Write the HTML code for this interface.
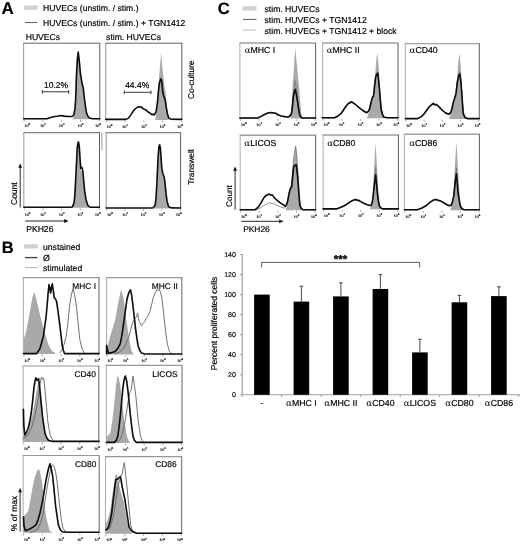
<!DOCTYPE html>
<html lang="en">
<head>
<meta charset="utf-8">
<title>Figure</title>
<style>
html,body{margin:0;padding:0;background:#fff;}
body{width:520px;height:544px;overflow:hidden;}
svg{display:block;}
svg text{font-family:"Liberation Sans",sans-serif;stroke:#000;stroke-width:0.18px;text-rendering:geometricPrecision;}
svg .al{font-family:"DejaVu Serif","Liberation Serif",serif;stroke-width:0;}
</style>
</head>
<body>
<svg width="520" height="544" viewBox="0 0 520 544">
<defs><filter id="soft" x="0" y="0" width="520" height="544" filterUnits="userSpaceOnUse"><feGaussianBlur stdDeviation="0.42"/></filter></defs>
<rect x="0" y="0" width="520" height="544" fill="#ffffff"/>
<g filter="url(#soft)">
<text x="1.4" y="14.0" font-size="17" text-anchor="start" font-weight="bold" fill="#000" >A</text>
<text x="1.8" y="253.2" font-size="16.5" text-anchor="start" font-weight="bold" fill="#000" >B</text>
<text x="217.8" y="14.1" font-size="16.5" text-anchor="start" font-weight="bold" fill="#000" >C</text>
<rect x="24.3" y="5.5" width="13.3" height="4.3" fill="#d0d0d0"/>
<text x="43.0" y="11.3" font-size="8.6" text-anchor="start" font-weight="normal" fill="#000" >HUVECs (unstim. / stim.)</text>
<line x1="25" y1="22.5" x2="37.2" y2="22.5" stroke="#333" stroke-width="0.8"/>
<text x="43.0" y="25.7" font-size="8.6" text-anchor="start" font-weight="normal" fill="#000" >HUVECs (unstim. / stim.) + TGN1412</text>
<text x="25.7" y="39.6" font-size="8.6" text-anchor="start" font-weight="normal" fill="#000" >HUVECs</text>
<text x="106.1" y="39.6" font-size="8.6" text-anchor="start" font-weight="normal" fill="#000" >stim. HUVECs</text>
<polygon points="72.5,119.2 72.5,119.0 74.0,115.5 75.6,100.4 76.6,74.2 77.4,60.1 78.3,52.1 79.2,60.1 80.4,74.2 82.0,84.3 83.0,88.8 84.1,98.4 85.2,107.0 86.2,112.9 87.7,117.0 89.5,119.0 89.5,119.2" fill="#a9a9a9"/>
<line x1="23.6" y1="43.2" x2="23.6" y2="119.2" stroke="#a2a2a2" stroke-width="1.1"/>
<line x1="23.1" y1="43.2" x2="100.3" y2="43.2" stroke="#646464" stroke-width="1.0"/>
<line x1="99.8" y1="43.2" x2="99.8" y2="119.2" stroke="#5c5c5c" stroke-width="1.0"/>
<polyline points="23.6,118.7 47.0,118.7 50.0,117.7 53.0,116.8 57.0,116.3 61.0,115.5 64.0,116.1 68.0,116.5 72.0,116.5 73.8,115.0 75.0,108.4 75.6,100.4 76.5,74.2 77.3,60.1 78.2,52.1 79.2,60.1 80.5,74.2 82.0,83.3 83.3,88.3 84.4,98.4 85.5,107.0 86.5,112.9 88.0,116.5 90.1,118.3 93.0,118.7 99.8,118.7" fill="none" stroke="#0a0a0a" stroke-width="1.6" stroke-linejoin="round" stroke-linecap="round"/>
<text x="24.6" y="126.9" font-size="3.6" fill="#222" stroke-width="0.1">10<tspan dy="-1.8" font-size="2.9">0</tspan></text>
<line x1="24.1" y1="119.8" x2="24.1" y2="121.6" stroke="#666" stroke-width="0.6"/>
<text x="40.2" y="126.9" font-size="3.6" fill="#222" stroke-width="0.1">10<tspan dy="-1.8" font-size="2.9">1</tspan></text>
<line x1="42.9" y1="119.8" x2="42.9" y2="121.6" stroke="#666" stroke-width="0.6"/>
<text x="59.1" y="126.9" font-size="3.6" fill="#222" stroke-width="0.1">10<tspan dy="-1.8" font-size="2.9">2</tspan></text>
<line x1="61.7" y1="119.8" x2="61.7" y2="121.6" stroke="#666" stroke-width="0.6"/>
<text x="77.8" y="126.9" font-size="3.6" fill="#222" stroke-width="0.1">10<tspan dy="-1.8" font-size="2.9">3</tspan></text>
<line x1="80.5" y1="119.8" x2="80.5" y2="121.6" stroke="#666" stroke-width="0.6"/>
<text x="95.2" y="126.9" font-size="3.6" fill="#222" stroke-width="0.1">10<tspan dy="-1.8" font-size="2.9">4</tspan></text>
<line x1="99.3" y1="119.8" x2="99.3" y2="121.6" stroke="#666" stroke-width="0.6"/>
<text x="56.0" y="87.7" font-size="8.5" text-anchor="middle" font-weight="normal" fill="#000" >10.2%</text>
<path d="M42.4 90 V93.6 M42.4 91.8 H68.7 M68.7 90 V93.6" stroke="#222" stroke-width="0.9" fill="none"/>
<polygon points="155.3,119.9 155.3,119.6 156.1,116.3 157.2,101.9 158.4,87.3 159.4,72.9 160.1,65.7 161.2,52.0 162.2,65.7 163.0,72.9 164.4,84.5 165.5,91.7 166.5,101.9 167.5,111.9 168.9,119.6 168.9,119.9" fill="#a9a9a9"/>
<line x1="105.7" y1="43.2" x2="105.7" y2="119.9" stroke="#a2a2a2" stroke-width="1.1"/>
<line x1="105.2" y1="43.2" x2="182.3" y2="43.2" stroke="#646464" stroke-width="1.0"/>
<line x1="181.8" y1="43.2" x2="181.8" y2="119.9" stroke="#5c5c5c" stroke-width="1.0"/>
<polyline points="105.7,119.4 126.0,119.4 128.5,118.1 131.0,114.6 134.0,110.0 137.0,107.5 139.2,106.7 141.4,107.1 143.6,109.1 145.5,109.7 147.2,111.2 149.0,112.7 150.8,113.5 152.2,114.8 153.3,114.2 154.3,114.9 156.1,111.9 157.5,101.9 158.4,91.7 159.4,83.0 160.8,78.7 161.8,81.6 162.7,91.7 163.7,96.0 165.1,99.6 166.1,106.2 167.3,113.5 168.7,117.8 170.8,119.2 181.8,119.4" fill="none" stroke="#0a0a0a" stroke-width="1.6" stroke-linejoin="round" stroke-linecap="round"/>
<text x="106.7" y="127.6" font-size="3.6" fill="#222" stroke-width="0.1">10<tspan dy="-1.8" font-size="2.9">0</tspan></text>
<line x1="106.2" y1="120.5" x2="106.2" y2="122.3" stroke="#666" stroke-width="0.6"/>
<text x="122.3" y="127.6" font-size="3.6" fill="#222" stroke-width="0.1">10<tspan dy="-1.8" font-size="2.9">1</tspan></text>
<line x1="125.0" y1="120.5" x2="125.0" y2="122.3" stroke="#666" stroke-width="0.6"/>
<text x="141.2" y="127.6" font-size="3.6" fill="#222" stroke-width="0.1">10<tspan dy="-1.8" font-size="2.9">2</tspan></text>
<line x1="143.8" y1="120.5" x2="143.8" y2="122.3" stroke="#666" stroke-width="0.6"/>
<text x="159.8" y="127.6" font-size="3.6" fill="#222" stroke-width="0.1">10<tspan dy="-1.8" font-size="2.9">3</tspan></text>
<line x1="162.5" y1="120.5" x2="162.5" y2="122.3" stroke="#666" stroke-width="0.6"/>
<text x="177.2" y="127.6" font-size="3.6" fill="#222" stroke-width="0.1">10<tspan dy="-1.8" font-size="2.9">4</tspan></text>
<line x1="181.3" y1="120.5" x2="181.3" y2="122.3" stroke="#666" stroke-width="0.6"/>
<text x="137.2" y="87.8" font-size="8.5" text-anchor="middle" font-weight="normal" fill="#000" >44.4%</text>
<path d="M124.2 90.5 V94.1 M124.2 92.3 H151 M151 90.5 V94.1" stroke="#222" stroke-width="0.9" fill="none"/>
<text transform="translate(194.0 99.0) rotate(-90)" font-size="8.4" text-anchor="start" fill="#000">Co-culture</text>
<polygon points="73.0,207.8 73.0,207.8 74.5,201.4 75.3,191.4 76.0,177.0 76.7,162.7 77.4,148.3 78.4,142.5 79.3,148.3 80.0,160.0 80.6,170.0 81.5,171.0 82.6,173.0 83.4,181.3 84.4,191.4 85.8,200.0 87.6,205.7 89.5,207.8 89.5,207.8" fill="#a9a9a9"/>
<line x1="23.8" y1="132.7" x2="23.8" y2="207.8" stroke="#a2a2a2" stroke-width="1.1"/>
<line x1="23.3" y1="132.7" x2="100.0" y2="132.7" stroke="#646464" stroke-width="1.0"/>
<line x1="99.5" y1="132.7" x2="99.5" y2="207.8" stroke="#5c5c5c" stroke-width="1.0"/>
<polyline points="23.8,207.3 70.0,207.3 72.2,207.0 73.3,205.0 74.3,201.4 75.1,191.4 75.8,177.0 76.5,162.7 77.2,148.3 77.8,143.8 78.4,141.9 79.0,144.3 79.4,148.3 80.1,159.8 80.8,168.4 81.8,167.3 82.5,169.5 83.0,172.7 83.7,181.3 84.7,191.4 86.1,200.0 88.0,205.7 90.1,207.1 99.5,207.3" fill="none" stroke="#0a0a0a" stroke-width="1.6" stroke-linejoin="round" stroke-linecap="round"/>
<text x="24.8" y="215.5" font-size="3.6" fill="#222" stroke-width="0.1">10<tspan dy="-1.8" font-size="2.9">0</tspan></text>
<line x1="24.3" y1="208.4" x2="24.3" y2="210.2" stroke="#666" stroke-width="0.6"/>
<text x="40.3" y="215.5" font-size="3.6" fill="#222" stroke-width="0.1">10<tspan dy="-1.8" font-size="2.9">1</tspan></text>
<line x1="43.0" y1="208.4" x2="43.0" y2="210.2" stroke="#666" stroke-width="0.6"/>
<text x="59.0" y="215.5" font-size="3.6" fill="#222" stroke-width="0.1">10<tspan dy="-1.8" font-size="2.9">2</tspan></text>
<line x1="61.7" y1="208.4" x2="61.7" y2="210.2" stroke="#666" stroke-width="0.6"/>
<text x="77.6" y="215.5" font-size="3.6" fill="#222" stroke-width="0.1">10<tspan dy="-1.8" font-size="2.9">3</tspan></text>
<line x1="80.3" y1="208.4" x2="80.3" y2="210.2" stroke="#666" stroke-width="0.6"/>
<text x="94.9" y="215.5" font-size="3.6" fill="#222" stroke-width="0.1">10<tspan dy="-1.8" font-size="2.9">4</tspan></text>
<line x1="99.0" y1="208.4" x2="99.0" y2="210.2" stroke="#666" stroke-width="0.6"/>
<line x1="101.9" y1="132.5" x2="101.9" y2="150" stroke="#a2a2a2" stroke-width="1.1"/>
<text transform="translate(17.0 205.0) rotate(-90)" font-size="8.5" text-anchor="start" fill="#000">Count</text>
<line x1="20.2" y1="207.6" x2="20.2" y2="166.4" stroke="#000" stroke-width="0.85"/>
<polygon points="20.2,163.4 18.3,167.8 22.1,167.8" fill="#111"/>
<line x1="25.2" y1="221.0" x2="65.6" y2="221.0" stroke="#000" stroke-width="0.85"/>
<polygon points="68.6,221.0 64.2,219.1 64.2,222.9" fill="#111"/>
<text x="26.2" y="232.2" font-size="8.6" text-anchor="start" font-weight="normal" fill="#000" >PKH26</text>
<polygon points="154.0,208.5 154.0,208.5 155.6,204.3 156.4,197.1 157.1,184.2 157.8,169.9 158.5,155.5 159.4,142.6 160.2,148.3 160.9,158.4 161.6,168.4 162.6,174.5 163.9,178.0 164.8,184.2 165.8,194.3 166.8,201.4 168.2,206.5 170.0,208.5 170.0,208.5" fill="#a9a9a9"/>
<line x1="106.2" y1="132.7" x2="106.2" y2="208.5" stroke="#a2a2a2" stroke-width="1.1"/>
<line x1="105.7" y1="132.7" x2="181.1" y2="132.7" stroke="#646464" stroke-width="1.0"/>
<line x1="180.6" y1="132.7" x2="180.6" y2="208.5" stroke="#5c5c5c" stroke-width="1.0"/>
<polyline points="106.2,208.0 151.0,208.0 153.2,207.7 154.4,206.3 155.3,204.3 156.1,197.1 156.8,184.2 157.5,169.9 158.2,155.5 158.9,146.9 159.7,144.8 160.4,148.3 161.1,158.4 161.8,168.4 162.8,173.5 164.2,177.0 165.1,184.2 166.1,194.3 167.1,201.4 168.5,206.5 171.1,207.9 180.6,208.0" fill="none" stroke="#0a0a0a" stroke-width="1.6" stroke-linejoin="round" stroke-linecap="round"/>
<text x="107.2" y="216.2" font-size="3.6" fill="#222" stroke-width="0.1">10<tspan dy="-1.8" font-size="2.9">0</tspan></text>
<line x1="106.7" y1="209.1" x2="106.7" y2="210.9" stroke="#666" stroke-width="0.6"/>
<text x="122.4" y="216.2" font-size="3.6" fill="#222" stroke-width="0.1">10<tspan dy="-1.8" font-size="2.9">1</tspan></text>
<line x1="125.0" y1="209.1" x2="125.0" y2="210.9" stroke="#666" stroke-width="0.6"/>
<text x="140.8" y="216.2" font-size="3.6" fill="#222" stroke-width="0.1">10<tspan dy="-1.8" font-size="2.9">2</tspan></text>
<line x1="143.4" y1="209.1" x2="143.4" y2="210.9" stroke="#666" stroke-width="0.6"/>
<text x="159.0" y="216.2" font-size="3.6" fill="#222" stroke-width="0.1">10<tspan dy="-1.8" font-size="2.9">3</tspan></text>
<line x1="161.8" y1="209.1" x2="161.8" y2="210.9" stroke="#666" stroke-width="0.6"/>
<text x="176.0" y="216.2" font-size="3.6" fill="#222" stroke-width="0.1">10<tspan dy="-1.8" font-size="2.9">4</tspan></text>
<line x1="180.1" y1="209.1" x2="180.1" y2="210.9" stroke="#666" stroke-width="0.6"/>
<text transform="translate(193.6 184.8) rotate(-90)" font-size="8.4" text-anchor="start" fill="#000">Transwell</text>
<rect x="24.2" y="244.3" width="13.6" height="4.2" fill="#d0d0d0"/>
<text x="43.0" y="249.5" font-size="8.65" text-anchor="start" font-weight="normal" fill="#000" >unstained</text>
<line x1="25" y1="257.6" x2="37.5" y2="257.6" stroke="#4a4a4a" stroke-width="1.4"/>
<text x="43.0" y="260.7" font-size="8.8" text-anchor="start" font-weight="normal" fill="#000" >Ø</text>
<line x1="25" y1="267.7" x2="37.5" y2="267.7" stroke="#a5a5a5" stroke-width="0.9"/>
<text x="43.0" y="271.2" font-size="8.6" text-anchor="start" font-weight="normal" fill="#000" >stimulated</text>
<polygon points="23.4,354.0 23.4,339.6 25.5,334.0 28.0,322.0 30.5,308.0 32.5,297.0 34.4,292.0 36.0,298.0 38.0,306.0 40.5,317.0 43.4,327.8 46.0,337.0 48.5,345.0 51.8,351.0 55.0,352.8 55.0,354.0" fill="#a9a9a9"/>
<line x1="23.4" y1="277.6" x2="23.4" y2="354.0" stroke="#b0b0b0" stroke-width="1.1"/>
<line x1="22.9" y1="277.6" x2="99.5" y2="277.6" stroke="#989898" stroke-width="1.2"/>
<line x1="99.0" y1="277.6" x2="99.0" y2="354.0" stroke="#858585" stroke-width="1.3"/>
<polyline points="60.3,352.4 63.0,348.0 66.2,336.3 68.0,322.0 69.6,305.8 71.3,295.0 73.0,289.0 74.7,295.0 76.4,305.8 78.0,322.0 79.8,339.6 81.8,348.0 84.0,352.4" fill="none" stroke="#6a6a6a" stroke-width="0.95" stroke-linejoin="round" stroke-linecap="round"/>
<polyline points="23.4,353.6 36.6,353.6 40.0,348.5 43.4,336.0 46.0,317.7 47.4,302.0 48.2,292.3 49.0,284.6 49.8,288.0 50.6,293.0 51.4,288.0 52.3,283.8 53.2,290.0 54.2,297.4 55.5,299.0 56.6,301.6 58.0,311.0 59.5,322.7 61.0,335.0 62.3,346.4 63.4,350.5 64.5,353.6 99.0,353.6" fill="none" stroke="#0a0a0a" stroke-width="1.6" stroke-linejoin="round" stroke-linecap="round"/>
<text x="24.4" y="361.7" font-size="3.6" fill="#222" stroke-width="0.1">10<tspan dy="-1.8" font-size="2.9">0</tspan></text>
<line x1="23.9" y1="354.6" x2="23.9" y2="356.4" stroke="#666" stroke-width="0.6"/>
<text x="39.9" y="361.7" font-size="3.6" fill="#222" stroke-width="0.1">10<tspan dy="-1.8" font-size="2.9">1</tspan></text>
<line x1="42.5" y1="354.6" x2="42.5" y2="356.4" stroke="#666" stroke-width="0.6"/>
<text x="58.6" y="361.7" font-size="3.6" fill="#222" stroke-width="0.1">10<tspan dy="-1.8" font-size="2.9">2</tspan></text>
<line x1="61.2" y1="354.6" x2="61.2" y2="356.4" stroke="#666" stroke-width="0.6"/>
<text x="77.1" y="361.7" font-size="3.6" fill="#222" stroke-width="0.1">10<tspan dy="-1.8" font-size="2.9">3</tspan></text>
<line x1="79.8" y1="354.6" x2="79.8" y2="356.4" stroke="#666" stroke-width="0.6"/>
<text x="94.4" y="361.7" font-size="3.6" fill="#222" stroke-width="0.1">10<tspan dy="-1.8" font-size="2.9">4</tspan></text>
<line x1="98.5" y1="354.6" x2="98.5" y2="356.4" stroke="#666" stroke-width="0.6"/>
<text x="96.0" y="289.4" font-size="8.4" text-anchor="end" font-weight="normal" fill="#000" >MHC I</text>
<polygon points="106.4,354.5 106.4,349.8 107.5,346.7 109.0,340.7 111.0,333.6 113.0,327.5 115.2,319.8 117.0,309.3 118.6,300.9 120.0,294.2 121.2,289.0 122.4,294.2 123.7,299.2 126.0,316.4 128.0,331.6 129.7,341.7 131.3,350.6 133.8,354.5 133.8,354.5" fill="#a9a9a9"/>
<line x1="106.6" y1="277.6" x2="106.6" y2="354.5" stroke="#b0b0b0" stroke-width="1.1"/>
<line x1="106.1" y1="277.6" x2="182.3" y2="277.6" stroke="#989898" stroke-width="1.2"/>
<line x1="181.8" y1="277.6" x2="181.8" y2="354.5" stroke="#858585" stroke-width="1.3"/>
<polyline points="115.0,354.0 120.0,351.8 123.7,348.7 126.0,343.7 128.8,336.9 131.0,328.5 133.0,321.5 135.0,318.4 136.4,317.2 137.6,313.0 138.4,317.4 139.3,321.5 140.4,323.5 141.5,325.8 143.0,323.5 144.8,321.5 146.0,318.4 147.4,317.2 148.6,314.4 150.0,311.4 151.7,304.3 153.3,297.6 155.0,293.2 156.7,289.9 158.0,290.6 159.2,289.1 160.5,292.2 161.8,297.6 163.0,307.3 164.3,319.8 165.5,330.6 166.8,340.3 168.0,346.7 169.4,351.4 172.0,354.0" fill="none" stroke="#6a6a6a" stroke-width="0.95" stroke-linejoin="round" stroke-linecap="round"/>
<polyline points="106.6,354.0 106.6,345.4 107.4,349.8 108.5,353.1 112.0,352.6 115.2,351.4 118.0,348.2 120.3,343.7 122.0,334.6 123.7,323.2 125.4,310.3 127.0,299.2 128.8,292.7 130.5,289.9 131.8,296.2 133.0,306.1 134.3,317.4 135.5,328.3 136.8,337.6 138.0,345.4 139.7,350.3 141.5,353.1 144.8,354.0 181.8,354.0" fill="none" stroke="#0a0a0a" stroke-width="1.6" stroke-linejoin="round" stroke-linecap="round"/>
<text x="107.6" y="362.2" font-size="3.6" fill="#222" stroke-width="0.1">10<tspan dy="-1.8" font-size="2.9">0</tspan></text>
<line x1="107.1" y1="355.1" x2="107.1" y2="356.9" stroke="#666" stroke-width="0.6"/>
<text x="123.0" y="362.2" font-size="3.6" fill="#222" stroke-width="0.1">10<tspan dy="-1.8" font-size="2.9">1</tspan></text>
<line x1="125.7" y1="355.1" x2="125.7" y2="356.9" stroke="#666" stroke-width="0.6"/>
<text x="141.6" y="362.2" font-size="3.6" fill="#222" stroke-width="0.1">10<tspan dy="-1.8" font-size="2.9">2</tspan></text>
<line x1="144.2" y1="355.1" x2="144.2" y2="356.9" stroke="#666" stroke-width="0.6"/>
<text x="160.0" y="362.2" font-size="3.6" fill="#222" stroke-width="0.1">10<tspan dy="-1.8" font-size="2.9">3</tspan></text>
<line x1="162.8" y1="355.1" x2="162.8" y2="356.9" stroke="#666" stroke-width="0.6"/>
<text x="177.2" y="362.2" font-size="3.6" fill="#222" stroke-width="0.1">10<tspan dy="-1.8" font-size="2.9">4</tspan></text>
<line x1="181.3" y1="355.1" x2="181.3" y2="356.9" stroke="#666" stroke-width="0.6"/>
<text x="177.8" y="289.4" font-size="8.4" text-anchor="end" font-weight="normal" fill="#000" >MHC II</text>
<polygon points="23.1,441.9 23.1,435.0 25.5,433.6 28.2,431.6 30.5,422.5 33.2,411.1 35.0,400.3 36.6,390.6 38.0,384.2 39.2,382.1 40.4,394.3 41.7,407.8 43.4,421.5 45.0,433.3 47.5,438.7 50.2,441.9 50.2,441.9" fill="#a9a9a9"/>
<line x1="23.1" y1="366.0" x2="23.1" y2="441.9" stroke="#b0b0b0" stroke-width="1.1"/>
<line x1="22.6" y1="366.0" x2="99.3" y2="366.0" stroke="#989898" stroke-width="1.2"/>
<line x1="98.8" y1="366.0" x2="98.8" y2="441.9" stroke="#858585" stroke-width="1.3"/>
<polyline points="23.1,438.5 28.2,435.0 31.5,427.6 34.9,416.3 37.0,404.4 39.2,390.6 40.4,382.1 41.4,377.1 42.0,378.6 42.5,379.5 43.1,378.1 43.7,377.9 44.5,385.2 45.4,394.1 46.5,406.4 47.6,419.7 48.9,428.6 50.2,435.0 52.0,439.2 54.4,441.4" fill="none" stroke="#6a6a6a" stroke-width="0.95" stroke-linejoin="round" stroke-linecap="round"/>
<polyline points="23.4,409.4 23.8,425.6 24.8,435.0 26.5,432.1 28.2,428.2 30.0,420.5 31.5,411.1 32.8,399.3 34.0,387.2 35.0,381.1 35.8,377.9 36.5,379.6 37.1,380.4 37.9,379.1 38.6,378.7 39.3,384.2 40.0,390.6 41.2,403.3 42.5,416.3 43.8,425.6 45.0,433.3 46.7,437.7 48.5,440.2 51.0,441.1 53.5,441.4 99.0,441.4" fill="none" stroke="#0a0a0a" stroke-width="1.6" stroke-linejoin="round" stroke-linecap="round"/>
<text x="24.1" y="449.6" font-size="3.6" fill="#222" stroke-width="0.1">10<tspan dy="-1.8" font-size="2.9">0</tspan></text>
<line x1="23.6" y1="442.5" x2="23.6" y2="444.3" stroke="#666" stroke-width="0.6"/>
<text x="39.6" y="449.6" font-size="3.6" fill="#222" stroke-width="0.1">10<tspan dy="-1.8" font-size="2.9">1</tspan></text>
<line x1="42.3" y1="442.5" x2="42.3" y2="444.3" stroke="#666" stroke-width="0.6"/>
<text x="58.3" y="449.6" font-size="3.6" fill="#222" stroke-width="0.1">10<tspan dy="-1.8" font-size="2.9">2</tspan></text>
<line x1="60.9" y1="442.5" x2="60.9" y2="444.3" stroke="#666" stroke-width="0.6"/>
<text x="76.9" y="449.6" font-size="3.6" fill="#222" stroke-width="0.1">10<tspan dy="-1.8" font-size="2.9">3</tspan></text>
<line x1="79.6" y1="442.5" x2="79.6" y2="444.3" stroke="#666" stroke-width="0.6"/>
<text x="94.2" y="449.6" font-size="3.6" fill="#222" stroke-width="0.1">10<tspan dy="-1.8" font-size="2.9">4</tspan></text>
<line x1="98.3" y1="442.5" x2="98.3" y2="444.3" stroke="#666" stroke-width="0.6"/>
<text x="95.8" y="377.4" font-size="8.4" text-anchor="end" font-weight="normal" fill="#000" >CD40</text>
<polygon points="106.4,442.9 106.4,437.4 110.2,433.1 112.0,423.3 113.5,410.9 114.8,398.2 116.0,385.5 117.0,379.1 117.8,375.3 119.0,379.1 120.3,385.5 122.0,400.2 123.7,416.1 125.4,427.3 127.0,436.4 128.8,440.9 130.5,442.9 130.5,442.9" fill="#a9a9a9"/>
<line x1="106.4" y1="365.4" x2="106.4" y2="442.9" stroke="#b0b0b0" stroke-width="1.1"/>
<line x1="105.9" y1="365.4" x2="182.5" y2="365.4" stroke="#989898" stroke-width="1.2"/>
<line x1="182.0" y1="365.4" x2="182.0" y2="442.9" stroke="#858585" stroke-width="1.3"/>
<polyline points="117.0,442.4 120.0,439.9 122.0,434.8 123.7,428.3 125.4,419.5 126.7,411.2 127.9,402.5 129.0,396.2 130.1,391.4 130.7,391.1 131.3,389.7 132.2,382.1 133.0,376.1 133.7,380.1 134.4,385.5 135.2,391.1 135.9,396.6 137.0,408.2 138.0,419.5 139.3,428.3 140.6,436.4 142.2,440.4 144.0,442.4" fill="none" stroke="#6a6a6a" stroke-width="0.95" stroke-linejoin="round" stroke-linecap="round"/>
<polyline points="106.4,442.4 114.4,442.4 116.2,440.4 117.8,436.4 119.0,427.3 120.3,416.1 121.6,402.2 122.8,388.8 124.0,380.1 125.4,376.1 126.7,381.1 127.9,390.5 129.2,403.2 130.5,416.1 131.8,427.3 133.0,436.4 134.6,440.7 136.4,442.4 182.0,442.4" fill="none" stroke="#0a0a0a" stroke-width="1.6" stroke-linejoin="round" stroke-linecap="round"/>
<text x="107.4" y="450.6" font-size="3.6" fill="#222" stroke-width="0.1">10<tspan dy="-1.8" font-size="2.9">0</tspan></text>
<line x1="106.9" y1="443.5" x2="106.9" y2="445.3" stroke="#666" stroke-width="0.6"/>
<text x="122.9" y="450.6" font-size="3.6" fill="#222" stroke-width="0.1">10<tspan dy="-1.8" font-size="2.9">1</tspan></text>
<line x1="125.6" y1="443.5" x2="125.6" y2="445.3" stroke="#666" stroke-width="0.6"/>
<text x="141.6" y="450.6" font-size="3.6" fill="#222" stroke-width="0.1">10<tspan dy="-1.8" font-size="2.9">2</tspan></text>
<line x1="144.2" y1="443.5" x2="144.2" y2="445.3" stroke="#666" stroke-width="0.6"/>
<text x="160.1" y="450.6" font-size="3.6" fill="#222" stroke-width="0.1">10<tspan dy="-1.8" font-size="2.9">3</tspan></text>
<line x1="162.8" y1="443.5" x2="162.8" y2="445.3" stroke="#666" stroke-width="0.6"/>
<text x="177.4" y="450.6" font-size="3.6" fill="#222" stroke-width="0.1">10<tspan dy="-1.8" font-size="2.9">4</tspan></text>
<line x1="181.5" y1="443.5" x2="181.5" y2="445.3" stroke="#666" stroke-width="0.6"/>
<text x="177.5" y="377.4" font-size="8.4" text-anchor="end" font-weight="normal" fill="#000" >LICOS</text>
<polygon points="23.1,532.8 23.1,517.0 25.5,514.4 28.3,511.1 30.2,500.7 32.2,489.3 34.0,480.4 36.0,473.6 37.5,470.2 39.0,468.7 40.5,474.3 41.9,481.4 43.8,497.7 45.8,514.9 47.8,524.1 49.7,530.8 52.6,532.8 52.6,532.8" fill="#a9a9a9"/>
<line x1="23.1" y1="455.5" x2="23.1" y2="532.8" stroke="#b0b0b0" stroke-width="1.1"/>
<line x1="22.6" y1="455.5" x2="99.7" y2="455.5" stroke="#989898" stroke-width="1.2"/>
<line x1="99.2" y1="455.5" x2="99.2" y2="532.8" stroke="#858585" stroke-width="1.3"/>
<polyline points="30.0,532.4 34.0,531.2 38.0,528.8 40.5,523.1 42.9,514.9 44.8,502.7 46.8,489.3 48.7,478.4 50.6,469.6 51.6,466.2 52.6,464.7 54.0,466.2 55.5,471.2 57.2,482.4 58.8,497.7 60.3,511.9 61.6,521.5 63.0,528.1 65.0,531.5 67.5,532.4" fill="none" stroke="#6a6a6a" stroke-width="0.95" stroke-linejoin="round" stroke-linecap="round"/>
<polyline points="23.5,517.0 24.0,526.1 25.4,530.8 28.0,529.7 30.2,528.8 33.0,527.1 36.0,524.9 38.0,520.0 40.0,512.9 41.5,505.8 42.9,499.3 44.3,490.5 45.8,481.4 47.2,474.3 48.6,468.2 50.0,463.7 51.3,469.2 52.6,475.5 54.0,489.5 55.5,505.2 57.0,515.9 58.4,524.9 60.3,529.7 62.3,531.8 67.0,532.3 99.0,532.3" fill="none" stroke="#0a0a0a" stroke-width="1.6" stroke-linejoin="round" stroke-linecap="round"/>
<text x="24.1" y="540.5" font-size="3.6" fill="#222" stroke-width="0.1">10<tspan dy="-1.8" font-size="2.9">0</tspan></text>
<line x1="23.6" y1="533.4" x2="23.6" y2="535.2" stroke="#666" stroke-width="0.6"/>
<text x="39.7" y="540.5" font-size="3.6" fill="#222" stroke-width="0.1">10<tspan dy="-1.8" font-size="2.9">1</tspan></text>
<line x1="42.4" y1="533.4" x2="42.4" y2="535.2" stroke="#666" stroke-width="0.6"/>
<text x="58.5" y="540.5" font-size="3.6" fill="#222" stroke-width="0.1">10<tspan dy="-1.8" font-size="2.9">2</tspan></text>
<line x1="61.1" y1="533.4" x2="61.1" y2="535.2" stroke="#666" stroke-width="0.6"/>
<text x="77.2" y="540.5" font-size="3.6" fill="#222" stroke-width="0.1">10<tspan dy="-1.8" font-size="2.9">3</tspan></text>
<line x1="79.9" y1="533.4" x2="79.9" y2="535.2" stroke="#666" stroke-width="0.6"/>
<text x="94.6" y="540.5" font-size="3.6" fill="#222" stroke-width="0.1">10<tspan dy="-1.8" font-size="2.9">4</tspan></text>
<line x1="98.7" y1="533.4" x2="98.7" y2="535.2" stroke="#666" stroke-width="0.6"/>
<text x="96.3" y="467.1" font-size="8.4" text-anchor="end" font-weight="normal" fill="#000" >CD80</text>
<text transform="translate(16.8 531.2) rotate(-90)" font-size="8.5" text-anchor="start" fill="#000">% of max</text>
<line x1="20.1" y1="531.6" x2="20.1" y2="490.9" stroke="#000" stroke-width="0.85"/>
<polygon points="20.1,487.9 18.2,492.3 22.0,492.3" fill="#111"/>
<polygon points="105.4,533.7 105.4,524.9 107.5,520.0 109.7,512.9 111.2,503.7 112.6,493.3 114.0,483.4 115.5,474.6 116.5,474.3 117.5,475.5 118.4,481.4 119.4,486.5 121.5,494.6 123.6,501.0 125.1,508.8 126.7,519.8 129.0,529.1 132.5,533.7 132.5,533.7" fill="#a9a9a9"/>
<line x1="105.5" y1="456.6" x2="105.5" y2="533.7" stroke="#b0b0b0" stroke-width="1.1"/>
<line x1="105.0" y1="456.6" x2="182.1" y2="456.6" stroke="#989898" stroke-width="1.2"/>
<line x1="181.6" y1="456.6" x2="181.6" y2="533.7" stroke="#858585" stroke-width="1.3"/>
<polyline points="105.4,529.6 109.7,528.8 111.7,523.0 113.6,514.9 115.5,502.7 117.5,489.3 119.0,482.4 120.4,477.5 121.4,475.3 122.3,473.6 123.3,467.2 124.3,462.7 125.0,468.2 125.8,475.5 127.0,487.5 128.2,499.3 129.4,511.9 130.7,524.9 132.2,530.2 134.0,533.2" fill="none" stroke="#6a6a6a" stroke-width="0.95" stroke-linejoin="round" stroke-linecap="round"/>
<polyline points="105.8,529.8 107.2,529.1 108.7,526.8 110.2,521.0 111.7,512.9 112.9,502.7 114.0,493.3 115.0,485.5 115.9,479.4 117.2,479.2 118.4,478.6 119.4,477.3 120.4,476.5 121.3,481.4 122.3,487.4 123.6,493.6 124.9,499.3 126.0,506.8 127.2,514.9 128.1,521.0 129.0,526.8 131.0,530.2 133.0,531.8 137.0,533.2 181.6,533.2" fill="none" stroke="#0a0a0a" stroke-width="1.6" stroke-linejoin="round" stroke-linecap="round"/>
<text x="106.5" y="541.4" font-size="3.6" fill="#222" stroke-width="0.1">10<tspan dy="-1.8" font-size="2.9">0</tspan></text>
<line x1="106.0" y1="534.3" x2="106.0" y2="536.1" stroke="#666" stroke-width="0.6"/>
<text x="122.1" y="541.4" font-size="3.6" fill="#222" stroke-width="0.1">10<tspan dy="-1.8" font-size="2.9">1</tspan></text>
<line x1="124.8" y1="534.3" x2="124.8" y2="536.1" stroke="#666" stroke-width="0.6"/>
<text x="140.9" y="541.4" font-size="3.6" fill="#222" stroke-width="0.1">10<tspan dy="-1.8" font-size="2.9">2</tspan></text>
<line x1="143.6" y1="534.3" x2="143.6" y2="536.1" stroke="#666" stroke-width="0.6"/>
<text x="159.6" y="541.4" font-size="3.6" fill="#222" stroke-width="0.1">10<tspan dy="-1.8" font-size="2.9">3</tspan></text>
<line x1="162.3" y1="534.3" x2="162.3" y2="536.1" stroke="#666" stroke-width="0.6"/>
<text x="177.0" y="541.4" font-size="3.6" fill="#222" stroke-width="0.1">10<tspan dy="-1.8" font-size="2.9">4</tspan></text>
<line x1="181.1" y1="534.3" x2="181.1" y2="536.1" stroke="#666" stroke-width="0.6"/>
<text x="176.7" y="467.1" font-size="8.4" text-anchor="end" font-weight="normal" fill="#000" >CD86</text>
<rect x="242.5" y="6.2" width="14" height="4.4" fill="#d2d2d2"/>
<text x="264.5" y="11.7" font-size="8.65" text-anchor="start" font-weight="normal" fill="#000" >stim. HUVECs</text>
<line x1="243" y1="19.4" x2="256.5" y2="19.4" stroke="#333" stroke-width="0.8"/>
<text x="264.5" y="22.8" font-size="8.65" text-anchor="start" font-weight="normal" fill="#000" >stim. HUVECs + TGN1412</text>
<line x1="243" y1="30.1" x2="256.5" y2="30.1" stroke="#b5b5b5" stroke-width="0.9"/>
<text x="264.5" y="33.5" font-size="8.65" text-anchor="start" font-weight="normal" fill="#000" >stim. HUVECs + TGN1412 + block</text>
<polygon points="290.5,118.5 290.5,118.5 291.5,106.4 292.4,89.3 293.6,72.4 294.6,57.2 295.4,48.2 296.2,57.2 297.6,72.4 299.2,89.3 300.6,106.4 301.9,118.5 301.9,118.5" fill="#a9a9a9"/>
<line x1="239.9" y1="43.0" x2="239.9" y2="118.5" stroke="#ababab" stroke-width="1.0"/>
<line x1="239.4" y1="43.0" x2="316.1" y2="43.0" stroke="#a0a0a0" stroke-width="1.4"/>
<line x1="315.6" y1="43.0" x2="315.6" y2="118.5" stroke="#5e5e5e" stroke-width="1.0"/>
<polyline points="239.9,118.2 257.7,118.2 263.6,115.2 267.0,113.5 270.4,112.7 275.5,113.5 281.4,116.2 288.2,117.2 291.5,113.5 293.2,95.7 294.3,86.6 295.3,80.8 296.4,88.6 297.5,99.8 299.7,115.0 302.5,118.0 315.6,118.2" fill="none" stroke="#7a7a7a" stroke-width="0.85" stroke-linejoin="round" stroke-linecap="round"/>
<polyline points="239.9,118.0 257.7,118.0 260.5,116.6 263.6,115.0 267.0,113.3 270.4,112.5 273.0,112.8 275.5,113.3 278.5,115.0 281.4,116.0 285.0,116.6 288.2,117.0 290.0,116.0 291.5,113.3 292.4,106.9 293.2,97.9 294.3,92.2 295.3,89.3 296.4,94.7 297.5,101.4 298.6,108.9 299.7,115.0 301.0,117.2 302.5,118.0 315.6,118.0" fill="none" stroke="#0a0a0a" stroke-width="1.6" stroke-linejoin="round" stroke-linecap="round"/>
<text x="240.9" y="126.2" font-size="3.6" fill="#222" stroke-width="0.1">10<tspan dy="-1.8" font-size="2.9">0</tspan></text>
<line x1="240.4" y1="119.1" x2="240.4" y2="120.9" stroke="#666" stroke-width="0.6"/>
<text x="256.4" y="126.2" font-size="3.6" fill="#222" stroke-width="0.1">10<tspan dy="-1.8" font-size="2.9">1</tspan></text>
<line x1="259.1" y1="119.1" x2="259.1" y2="120.9" stroke="#666" stroke-width="0.6"/>
<text x="275.2" y="126.2" font-size="3.6" fill="#222" stroke-width="0.1">10<tspan dy="-1.8" font-size="2.9">2</tspan></text>
<line x1="277.8" y1="119.1" x2="277.8" y2="120.9" stroke="#666" stroke-width="0.6"/>
<text x="293.7" y="126.2" font-size="3.6" fill="#222" stroke-width="0.1">10<tspan dy="-1.8" font-size="2.9">3</tspan></text>
<line x1="296.4" y1="119.1" x2="296.4" y2="120.9" stroke="#666" stroke-width="0.6"/>
<text x="311.0" y="126.2" font-size="3.6" fill="#222" stroke-width="0.1">10<tspan dy="-1.8" font-size="2.9">4</tspan></text>
<line x1="315.1" y1="119.1" x2="315.1" y2="120.9" stroke="#666" stroke-width="0.6"/>
<text x="244.7" y="53.1" font-size="8.7" text-anchor="start" font-weight="normal" fill="#000" ><tspan class="al">α</tspan>MHC I</text>
<polygon points="366.8,118.3 366.8,118.3 369.0,112.7 371.8,101.2 373.5,96.6 375.0,76.4 376.3,60.2 377.4,52.5 378.7,66.2 380.0,88.5 381.5,105.7 383.0,114.8 384.5,118.3 384.5,118.3" fill="#a9a9a9"/>
<line x1="322.7" y1="43.0" x2="322.7" y2="118.3" stroke="#ababab" stroke-width="1.0"/>
<line x1="322.2" y1="43.0" x2="398.5" y2="43.0" stroke="#a0a0a0" stroke-width="1.4"/>
<line x1="398.0" y1="43.0" x2="398.0" y2="118.3" stroke="#5e5e5e" stroke-width="1.0"/>
<polyline points="322.3,117.8 334.6,117.8 338.0,115.8 341.4,112.7 344.0,108.7 346.5,104.9 349.0,102.4 351.5,101.2 353.0,102.6 354.5,103.2 356.6,105.3 361.7,109.7 366.8,112.3 369.3,109.7 371.8,99.5 373.5,96.1 375.6,77.3 377.8,73.0 379.5,89.2 381.2,109.7 383.7,116.9 387.0,117.8 398.0,117.8" fill="none" stroke="#7a7a7a" stroke-width="0.85" stroke-linejoin="round" stroke-linecap="round"/>
<polyline points="322.3,117.8 334.6,117.8 338.0,116.0 341.4,113.2 344.0,109.3 346.5,105.5 349.0,103.2 351.5,102.0 354.0,103.4 356.6,105.5 359.0,107.7 361.7,109.7 364.3,111.5 366.8,112.7 368.0,111.7 369.3,109.7 370.5,104.7 371.8,99.5 372.6,97.1 373.5,96.1 374.5,86.5 375.6,77.3 376.7,74.3 377.8,73.0 378.6,80.4 379.5,89.2 380.3,99.6 381.2,109.7 382.4,114.3 383.7,116.9 387.0,117.8 398.0,117.8" fill="none" stroke="#0a0a0a" stroke-width="1.6" stroke-linejoin="round" stroke-linecap="round"/>
<text x="323.7" y="126.0" font-size="3.6" fill="#222" stroke-width="0.1">10<tspan dy="-1.8" font-size="2.9">0</tspan></text>
<line x1="323.2" y1="118.9" x2="323.2" y2="120.7" stroke="#666" stroke-width="0.6"/>
<text x="339.1" y="126.0" font-size="3.6" fill="#222" stroke-width="0.1">10<tspan dy="-1.8" font-size="2.9">1</tspan></text>
<line x1="341.8" y1="118.9" x2="341.8" y2="120.7" stroke="#666" stroke-width="0.6"/>
<text x="357.8" y="126.0" font-size="3.6" fill="#222" stroke-width="0.1">10<tspan dy="-1.8" font-size="2.9">2</tspan></text>
<line x1="360.4" y1="118.9" x2="360.4" y2="120.7" stroke="#666" stroke-width="0.6"/>
<text x="376.2" y="126.0" font-size="3.6" fill="#222" stroke-width="0.1">10<tspan dy="-1.8" font-size="2.9">3</tspan></text>
<line x1="378.9" y1="118.9" x2="378.9" y2="120.7" stroke="#666" stroke-width="0.6"/>
<text x="393.4" y="126.0" font-size="3.6" fill="#222" stroke-width="0.1">10<tspan dy="-1.8" font-size="2.9">4</tspan></text>
<line x1="397.5" y1="118.9" x2="397.5" y2="120.7" stroke="#666" stroke-width="0.6"/>
<text x="326.7" y="53.1" font-size="8.7" text-anchor="start" font-weight="normal" fill="#000" ><tspan class="al">α</tspan>MHC II</text>
<polygon points="448.8,119.1 448.8,119.1 451.0,114.0 453.5,102.9 455.5,96.8 457.0,78.5 458.3,62.3 459.4,53.0 460.7,66.3 462.0,88.7 463.3,106.9 464.5,115.0 465.7,119.1 465.7,119.1" fill="#a9a9a9"/>
<line x1="405.3" y1="43.6" x2="405.3" y2="119.1" stroke="#ababab" stroke-width="1.0"/>
<line x1="404.8" y1="43.6" x2="479.8" y2="43.6" stroke="#a0a0a0" stroke-width="1.4"/>
<line x1="479.3" y1="43.6" x2="479.3" y2="119.1" stroke="#5e5e5e" stroke-width="1.0"/>
<polyline points="405.3,118.6 417.5,118.6 421.0,116.6 424.0,113.5 427.0,109.0 430.0,105.5 432.0,103.9 433.5,102.9 435.0,104.4 436.5,104.1 439.0,106.4 442.0,109.5 445.5,112.5 448.8,113.8 451.5,110.0 453.2,102.9 454.7,97.5 456.0,92.7 457.3,80.5 458.5,75.5 459.8,71.4 461.0,80.5 462.0,95.8 463.2,112.8 465.0,117.4 467.4,118.6 479.3,118.6" fill="none" stroke="#7a7a7a" stroke-width="0.85" stroke-linejoin="round" stroke-linecap="round"/>
<polyline points="405.3,118.6 417.5,118.6 421.0,116.9 424.0,114.0 427.0,109.8 430.0,106.1 432.0,104.5 433.5,103.5 435.0,104.9 436.5,104.5 439.0,106.9 442.0,110.0 445.5,113.0 448.8,114.3 450.5,113.0 451.8,109.5 453.2,102.9 454.7,98.0 456.0,93.7 457.3,82.6 458.5,76.5 459.8,73.9 461.0,82.6 462.0,96.8 463.2,113.4 465.0,117.6 467.4,118.6 479.3,118.6" fill="none" stroke="#0a0a0a" stroke-width="1.6" stroke-linejoin="round" stroke-linecap="round"/>
<text x="406.3" y="126.8" font-size="3.6" fill="#222" stroke-width="0.1">10<tspan dy="-1.8" font-size="2.9">0</tspan></text>
<line x1="405.8" y1="119.7" x2="405.8" y2="121.5" stroke="#666" stroke-width="0.6"/>
<text x="421.4" y="126.8" font-size="3.6" fill="#222" stroke-width="0.1">10<tspan dy="-1.8" font-size="2.9">1</tspan></text>
<line x1="424.1" y1="119.7" x2="424.1" y2="121.5" stroke="#666" stroke-width="0.6"/>
<text x="439.7" y="126.8" font-size="3.6" fill="#222" stroke-width="0.1">10<tspan dy="-1.8" font-size="2.9">2</tspan></text>
<line x1="442.3" y1="119.7" x2="442.3" y2="121.5" stroke="#666" stroke-width="0.6"/>
<text x="457.8" y="126.8" font-size="3.6" fill="#222" stroke-width="0.1">10<tspan dy="-1.8" font-size="2.9">3</tspan></text>
<line x1="460.6" y1="119.7" x2="460.6" y2="121.5" stroke="#666" stroke-width="0.6"/>
<text x="474.7" y="126.8" font-size="3.6" fill="#222" stroke-width="0.1">10<tspan dy="-1.8" font-size="2.9">4</tspan></text>
<line x1="478.8" y1="119.7" x2="478.8" y2="121.5" stroke="#666" stroke-width="0.6"/>
<text x="409.5" y="53.1" font-size="8.7" text-anchor="start" font-weight="normal" fill="#000" ><tspan class="al">α</tspan>CD40</text>
<polygon points="285.6,210.2 285.6,210.2 287.7,203.4 289.7,188.9 291.5,184.3 293.0,165.2 294.5,151.1 295.7,144.2 296.9,155.1 298.0,172.2 299.3,194.3 300.5,205.4 301.8,210.2 301.8,210.2" fill="#a9a9a9"/>
<line x1="240.2" y1="135.2" x2="240.2" y2="210.2" stroke="#ababab" stroke-width="1.0"/>
<line x1="239.7" y1="135.2" x2="316.1" y2="135.2" stroke="#a0a0a0" stroke-width="1.4"/>
<line x1="315.6" y1="135.2" x2="315.6" y2="210.2" stroke="#5e5e5e" stroke-width="1.0"/>
<polyline points="240.2,209.8 256.3,209.8 260.0,208.2 264.0,205.4 267.5,203.6 270.5,202.7 272.0,203.9 273.5,203.4 276.5,205.2 280.5,206.9 284.6,208.2 286.5,205.4 288.0,198.3 289.7,189.3 291.5,184.8 293.0,166.2 294.5,152.1 295.7,146.3 296.9,157.1 298.0,173.2 299.3,195.3 300.5,205.9 302.8,209.8 315.6,209.8" fill="none" stroke="#7a7a7a" stroke-width="0.85" stroke-linejoin="round" stroke-linecap="round"/>
<polyline points="240.2,209.7 255.3,209.7 258.5,206.9 261.4,202.1 263.5,198.3 265.4,196.0 267.5,194.8 269.5,194.0 271.0,195.3 272.5,195.1 274.5,198.0 277.5,200.6 280.6,203.1 283.0,204.7 285.6,206.2 286.7,204.4 287.7,201.1 288.7,195.3 289.7,190.9 290.7,188.3 291.7,186.9 292.7,176.2 293.7,166.6 295.0,165.2 296.1,164.6 297.0,171.2 297.8,178.7 298.8,192.3 299.8,205.2 301.2,208.4 302.8,209.7 315.6,209.7" fill="none" stroke="#0a0a0a" stroke-width="1.6" stroke-linejoin="round" stroke-linecap="round"/>
<text x="241.2" y="217.9" font-size="3.6" fill="#222" stroke-width="0.1">10<tspan dy="-1.8" font-size="2.9">0</tspan></text>
<line x1="240.7" y1="210.8" x2="240.7" y2="212.6" stroke="#666" stroke-width="0.6"/>
<text x="256.6" y="217.9" font-size="3.6" fill="#222" stroke-width="0.1">10<tspan dy="-1.8" font-size="2.9">1</tspan></text>
<line x1="259.3" y1="210.8" x2="259.3" y2="212.6" stroke="#666" stroke-width="0.6"/>
<text x="275.3" y="217.9" font-size="3.6" fill="#222" stroke-width="0.1">10<tspan dy="-1.8" font-size="2.9">2</tspan></text>
<line x1="277.9" y1="210.8" x2="277.9" y2="212.6" stroke="#666" stroke-width="0.6"/>
<text x="293.8" y="217.9" font-size="3.6" fill="#222" stroke-width="0.1">10<tspan dy="-1.8" font-size="2.9">3</tspan></text>
<line x1="296.5" y1="210.8" x2="296.5" y2="212.6" stroke="#666" stroke-width="0.6"/>
<text x="311.0" y="217.9" font-size="3.6" fill="#222" stroke-width="0.1">10<tspan dy="-1.8" font-size="2.9">4</tspan></text>
<line x1="315.1" y1="210.8" x2="315.1" y2="212.6" stroke="#666" stroke-width="0.6"/>
<text x="244.3" y="146.0" font-size="8.7" text-anchor="start" font-weight="normal" fill="#000" ><tspan class="al">α</tspan>LICOS</text>
<text transform="translate(232.2 207.0) rotate(-90)" font-size="8.2" text-anchor="start" fill="#000">Count</text>
<line x1="235.1" y1="209.8" x2="235.1" y2="169.4" stroke="#000" stroke-width="0.85"/>
<polygon points="235.1,166.4 233.2,170.8 237.0,170.8" fill="#111"/>
<line x1="241.2" y1="221.3" x2="280.6" y2="221.3" stroke="#000" stroke-width="0.85"/>
<polygon points="283.6,221.3 279.2,219.4 279.2,223.2" fill="#111"/>
<text x="243.2" y="232.2" font-size="8.4" text-anchor="start" font-weight="normal" fill="#000" >PKH26</text>
<polygon points="369.8,209.3 369.8,209.3 371.6,203.5 373.0,190.4 374.3,165.2 375.6,142.5 376.9,165.2 378.3,190.4 379.8,203.5 381.6,209.3 381.6,209.3" fill="#a9a9a9"/>
<line x1="323.1" y1="135.0" x2="323.1" y2="209.3" stroke="#ababab" stroke-width="1.0"/>
<line x1="322.6" y1="135.0" x2="398.9" y2="135.0" stroke="#a0a0a0" stroke-width="1.4"/>
<line x1="398.4" y1="135.0" x2="398.4" y2="209.3" stroke="#5e5e5e" stroke-width="1.0"/>
<polyline points="323.1,208.9 336.3,208.9 340.5,207.5 344.8,205.5 348.0,203.3 351.5,201.1 354.0,200.0 355.8,199.4 358.5,200.4 361.7,202.1 364.3,203.5 366.8,204.6 369.0,205.3 371.0,205.5 372.2,202.5 373.2,196.0 374.4,180.3 375.6,167.1 376.5,178.3 377.3,192.7 378.4,201.4 379.5,206.3 381.0,208.1 382.8,208.9 398.4,208.9" fill="none" stroke="#7a7a7a" stroke-width="0.85" stroke-linejoin="round" stroke-linecap="round"/>
<polyline points="323.1,208.9 336.3,208.9 340.5,207.5 344.8,205.5 348.0,203.3 351.5,201.1 354.0,200.0 355.8,199.4 357.0,200.4 358.5,200.2 361.7,202.1 364.3,203.5 366.8,204.6 369.0,205.3 371.0,205.5 372.2,202.5 373.2,196.0 374.4,184.3 375.6,174.8 376.5,183.3 377.3,192.7 378.4,201.4 379.5,206.3 381.0,208.1 382.8,208.9 398.4,208.9" fill="none" stroke="#0a0a0a" stroke-width="1.6" stroke-linejoin="round" stroke-linecap="round"/>
<text x="324.1" y="217.0" font-size="3.6" fill="#222" stroke-width="0.1">10<tspan dy="-1.8" font-size="2.9">0</tspan></text>
<line x1="323.6" y1="209.9" x2="323.6" y2="211.7" stroke="#666" stroke-width="0.6"/>
<text x="339.5" y="217.0" font-size="3.6" fill="#222" stroke-width="0.1">10<tspan dy="-1.8" font-size="2.9">1</tspan></text>
<line x1="342.2" y1="209.9" x2="342.2" y2="211.7" stroke="#666" stroke-width="0.6"/>
<text x="358.1" y="217.0" font-size="3.6" fill="#222" stroke-width="0.1">10<tspan dy="-1.8" font-size="2.9">2</tspan></text>
<line x1="360.8" y1="209.9" x2="360.8" y2="211.7" stroke="#666" stroke-width="0.6"/>
<text x="376.6" y="217.0" font-size="3.6" fill="#222" stroke-width="0.1">10<tspan dy="-1.8" font-size="2.9">3</tspan></text>
<line x1="379.3" y1="209.9" x2="379.3" y2="211.7" stroke="#666" stroke-width="0.6"/>
<text x="393.8" y="217.0" font-size="3.6" fill="#222" stroke-width="0.1">10<tspan dy="-1.8" font-size="2.9">4</tspan></text>
<line x1="397.9" y1="209.9" x2="397.9" y2="211.7" stroke="#666" stroke-width="0.6"/>
<text x="327.2" y="146.0" font-size="8.7" text-anchor="start" font-weight="normal" fill="#000" ><tspan class="al">α</tspan>CD80</text>
<polygon points="450.2,210.2 450.2,210.2 452.3,204.2 453.7,190.1 455.0,165.1 456.4,141.5 457.8,165.1 459.2,190.1 460.7,204.2 462.6,210.2 462.6,210.2" fill="#a9a9a9"/>
<line x1="404.4" y1="134.3" x2="404.4" y2="210.2" stroke="#ababab" stroke-width="1.0"/>
<line x1="403.9" y1="134.3" x2="479.9" y2="134.3" stroke="#a0a0a0" stroke-width="1.4"/>
<line x1="479.4" y1="134.3" x2="479.4" y2="210.2" stroke="#5e5e5e" stroke-width="1.0"/>
<polyline points="404.4,209.7 417.5,209.7 422.0,208.0 426.8,204.8 430.0,201.8 432.7,200.0 434.0,199.0 436.9,199.6 440.0,200.8 442.8,202.2 445.5,203.8 447.9,205.2 451.3,205.2 452.6,201.2 453.8,195.8 455.2,180.1 456.4,168.1 457.2,180.1 458.0,192.5 459.2,200.2 460.3,206.0 462.0,208.7 464.0,209.7 479.4,209.7" fill="none" stroke="#7a7a7a" stroke-width="0.85" stroke-linejoin="round" stroke-linecap="round"/>
<polyline points="404.4,209.7 417.5,209.7 422.0,208.0 426.8,205.2 430.0,202.4 432.7,200.6 435.0,199.8 436.9,199.6 438.5,200.7 440.0,200.6 442.8,202.2 445.5,203.8 447.9,205.2 449.6,205.6 451.3,205.2 452.6,201.2 453.8,195.8 455.2,182.1 456.4,173.8 457.2,182.1 458.0,192.5 459.2,200.2 460.3,206.0 462.0,208.7 464.0,209.7 479.4,209.7" fill="none" stroke="#0a0a0a" stroke-width="1.6" stroke-linejoin="round" stroke-linecap="round"/>
<text x="405.4" y="217.9" font-size="3.6" fill="#222" stroke-width="0.1">10<tspan dy="-1.8" font-size="2.9">0</tspan></text>
<line x1="404.9" y1="210.8" x2="404.9" y2="212.6" stroke="#666" stroke-width="0.6"/>
<text x="420.8" y="217.9" font-size="3.6" fill="#222" stroke-width="0.1">10<tspan dy="-1.8" font-size="2.9">1</tspan></text>
<line x1="423.4" y1="210.8" x2="423.4" y2="212.6" stroke="#666" stroke-width="0.6"/>
<text x="439.3" y="217.9" font-size="3.6" fill="#222" stroke-width="0.1">10<tspan dy="-1.8" font-size="2.9">2</tspan></text>
<line x1="441.9" y1="210.8" x2="441.9" y2="212.6" stroke="#666" stroke-width="0.6"/>
<text x="457.6" y="217.9" font-size="3.6" fill="#222" stroke-width="0.1">10<tspan dy="-1.8" font-size="2.9">3</tspan></text>
<line x1="460.4" y1="210.8" x2="460.4" y2="212.6" stroke="#666" stroke-width="0.6"/>
<text x="474.8" y="217.9" font-size="3.6" fill="#222" stroke-width="0.1">10<tspan dy="-1.8" font-size="2.9">4</tspan></text>
<line x1="478.9" y1="210.8" x2="478.9" y2="212.6" stroke="#666" stroke-width="0.6"/>
<text x="409.2" y="146.0" font-size="8.7" text-anchor="start" font-weight="normal" fill="#000" ><tspan class="al">α</tspan>CD86</text>
<line x1="242.2" y1="254.5" x2="242.2" y2="394.8" stroke="#a8a8a8" stroke-width="1.3"/>
<line x1="242.2" y1="394.8" x2="520" y2="394.8" stroke="#a0a0a0" stroke-width="1.1"/>
<line x1="240.0" y1="394.8" x2="242.2" y2="394.8" stroke="#8a8a8a" stroke-width="0.8"/>
<text x="235.9" y="397.3" font-size="7.0" text-anchor="end" font-weight="normal" fill="#111" >0</text>
<line x1="240.0" y1="374.8" x2="242.2" y2="374.8" stroke="#8a8a8a" stroke-width="0.8"/>
<text x="235.9" y="377.2" font-size="7.0" text-anchor="end" font-weight="normal" fill="#111" >20</text>
<line x1="240.0" y1="354.7" x2="242.2" y2="354.7" stroke="#8a8a8a" stroke-width="0.8"/>
<text x="235.9" y="357.2" font-size="7.0" text-anchor="end" font-weight="normal" fill="#111" >40</text>
<line x1="240.0" y1="334.7" x2="242.2" y2="334.7" stroke="#8a8a8a" stroke-width="0.8"/>
<text x="235.9" y="337.2" font-size="7.0" text-anchor="end" font-weight="normal" fill="#111" >60</text>
<line x1="240.0" y1="314.6" x2="242.2" y2="314.6" stroke="#8a8a8a" stroke-width="0.8"/>
<text x="235.9" y="317.1" font-size="7.0" text-anchor="end" font-weight="normal" fill="#111" >80</text>
<line x1="240.0" y1="294.6" x2="242.2" y2="294.6" stroke="#8a8a8a" stroke-width="0.8"/>
<text x="235.9" y="297.1" font-size="7.0" text-anchor="end" font-weight="normal" fill="#111" >100</text>
<line x1="240.0" y1="274.5" x2="242.2" y2="274.5" stroke="#8a8a8a" stroke-width="0.8"/>
<text x="235.9" y="277.0" font-size="7.0" text-anchor="end" font-weight="normal" fill="#111" >120</text>
<line x1="240.0" y1="254.5" x2="242.2" y2="254.5" stroke="#8a8a8a" stroke-width="0.8"/>
<text x="235.9" y="257.0" font-size="7.0" text-anchor="end" font-weight="normal" fill="#111" >140</text>
<line x1="242.2" y1="394.8" x2="242.2" y2="397.2" stroke="#8a8a8a" stroke-width="0.8"/>
<line x1="281.7" y1="394.8" x2="281.7" y2="397.2" stroke="#8a8a8a" stroke-width="0.8"/>
<line x1="321.2" y1="394.8" x2="321.2" y2="397.2" stroke="#8a8a8a" stroke-width="0.8"/>
<line x1="360.7" y1="394.8" x2="360.7" y2="397.2" stroke="#8a8a8a" stroke-width="0.8"/>
<line x1="400.2" y1="394.8" x2="400.2" y2="397.2" stroke="#8a8a8a" stroke-width="0.8"/>
<line x1="439.7" y1="394.8" x2="439.7" y2="397.2" stroke="#8a8a8a" stroke-width="0.8"/>
<line x1="479.2" y1="394.8" x2="479.2" y2="397.2" stroke="#8a8a8a" stroke-width="0.8"/>
<line x1="518.7" y1="394.8" x2="518.7" y2="397.2" stroke="#8a8a8a" stroke-width="0.8"/>
<rect x="254.1" y="294.6" width="15.6" height="100.2" fill="#000"/>
<text x="261.9" y="406.4" font-size="8.75" text-anchor="middle" font-weight="normal" fill="#000" >-</text>
<path d="M301.4 301.6 V286.2 M299.6 286.2 H303.2" stroke="#333" stroke-width="0.9" fill="none"/>
<rect x="293.6" y="301.6" width="15.6" height="93.2" fill="#000"/>
<text x="301.4" y="406.4" font-size="8.75" text-anchor="middle" font-weight="normal" fill="#000" ><tspan class="al">α</tspan>MHC I</text>
<path d="M340.9 296.4 V282.8 M339.1 282.8 H342.8" stroke="#333" stroke-width="0.9" fill="none"/>
<rect x="333.1" y="296.4" width="15.6" height="98.4" fill="#000"/>
<text x="340.9" y="406.4" font-size="8.75" text-anchor="middle" font-weight="normal" fill="#000" ><tspan class="al">α</tspan>MHC II</text>
<path d="M380.4 289.0 V274.6 M378.6 274.6 H382.2" stroke="#333" stroke-width="0.9" fill="none"/>
<rect x="372.6" y="289.0" width="15.6" height="105.8" fill="#000"/>
<text x="380.4" y="406.4" font-size="8.75" text-anchor="middle" font-weight="normal" fill="#000" ><tspan class="al">α</tspan>CD40</text>
<path d="M419.9 352.4 V339.3 M418.1 339.3 H421.8" stroke="#333" stroke-width="0.9" fill="none"/>
<rect x="412.1" y="352.4" width="15.6" height="42.4" fill="#000"/>
<text x="419.9" y="406.4" font-size="8.75" text-anchor="middle" font-weight="normal" fill="#000" ><tspan class="al">α</tspan>LICOS</text>
<path d="M459.4 302.3 V295.4 M457.6 295.4 H461.2" stroke="#333" stroke-width="0.9" fill="none"/>
<rect x="451.6" y="302.3" width="15.6" height="92.5" fill="#000"/>
<text x="459.4" y="406.4" font-size="8.75" text-anchor="middle" font-weight="normal" fill="#000" ><tspan class="al">α</tspan>CD80</text>
<path d="M498.9 296.1 V286.8 M497.1 286.8 H500.8" stroke="#333" stroke-width="0.9" fill="none"/>
<rect x="491.1" y="296.1" width="15.6" height="98.7" fill="#000"/>
<text x="498.9" y="406.4" font-size="8.75" text-anchor="middle" font-weight="normal" fill="#000" ><tspan class="al">α</tspan>CD86</text>
<path d="M261.6 267.4 V262.4 H419.6 V267.4" stroke="#4a4a4a" stroke-width="0.9" fill="none"/>
<text x="340.5" y="263.3" font-size="11.5" text-anchor="middle" font-weight="bold" fill="#000" style="stroke-width:0.3px">***</text>
<text transform="translate(217.3 370.2) rotate(-90)" font-size="8.5" text-anchor="start" fill="#000">Percent proliferated cells</text>
</g>
</svg>
</body>
</html>
